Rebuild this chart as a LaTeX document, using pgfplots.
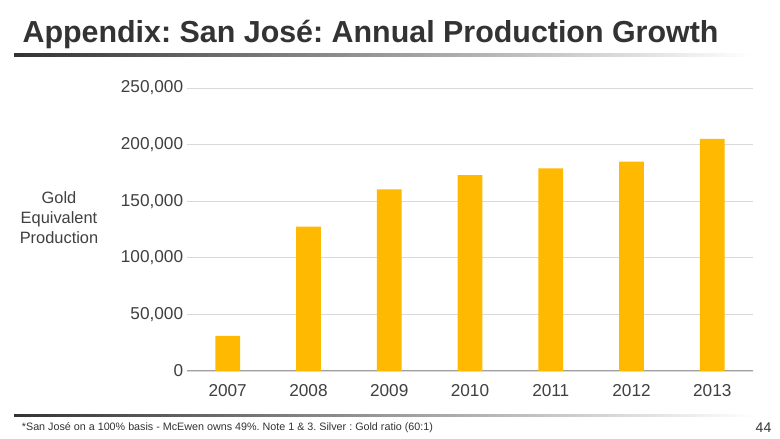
\documentclass[border=0pt]{standalone}
\usepackage{fontspec}
\setmainfont{Liberation Sans}
\usepackage{pgfplots}
\pgfplotsset{compat=1.18}
\definecolor{barc}{RGB}{255,185,0}
\definecolor{txt}{RGB}{64,64,64}
\definecolor{ttl}{RGB}{51,51,51}
\definecolor{grd}{RGB}{217,217,217}
\definecolor{axl}{RGB}{160,160,160}
\frenchspacing
\begin{document}
\begin{tikzpicture}[x=1pt,y=1pt]
\fill[white] (0,0) rectangle (780,439);
\node[anchor=base west, inner sep=0pt, text=ttl, font=\fontsize{30.4}{36}\selectfont\bfseries] at (22.4,396.3) {Appendix: San José: Annual Production Growth};
\shade[left color=ttl, right color=white] (14,382.8) rectangle (752,385.8);
\shade[left color=ttl, right color=white] (14,22) rectangle (756,24.5);
\node[anchor=base west, inner sep=0pt, text=ttl, font=\fontsize{10.75}{13}\selectfont] at (21.7,8.3) {*San José on a 100\% basis - McEwen owns 49\%. Note 1 \& 3. Silver : Gold ratio (60:1)};
\node[anchor=base east, inner sep=0pt, text=ttl, font=\fontsize{14}{17}\selectfont] at (771.5,6.3) {44};
\node[align=center, inner sep=0pt, text=txt, font=\fontsize{16.4}{20}\selectfont] at (59,221) {Gold\\Equivalent\\Production};
\begin{axis}[
  at={(187.3pt,68pt)}, anchor=south west,
  scale only axis, width=565.4pt, height=283pt,
  xmin=-0.5, xmax=6.5, ymin=0, ymax=250000,
  ybar, bar width=24.7pt,
  axis lines*=left,
  y axis line style={draw=none},
  x axis line style={axl, line width=1pt},
  xtick=data,
  xticklabels={2007,2008,2009,2010,2011,2012,2013},
  ytick={0,50000,100000,150000,200000,250000},
  ymajorgrids, grid style={grd, line width=0.8pt},
  major tick length=0pt, tick style={draw=none},
  scaled y ticks=false,
  yticklabel style={/pgf/number format/.cd, fixed, 1000 sep={,}, assume math mode=true},
  ticklabel style={font=\fontsize{17.2}{20}\selectfont, text=txt, inner sep=0pt},
  xticklabel shift=13.5pt,
  yticklabel shift=4pt,
  clip=false,
]
\addplot[fill=barc, draw=none] coordinates {(0,31000) (1,127500) (2,160500) (3,173000) (4,179000) (5,185000) (6,205000)};
\end{axis}
\end{tikzpicture}
\end{document}
